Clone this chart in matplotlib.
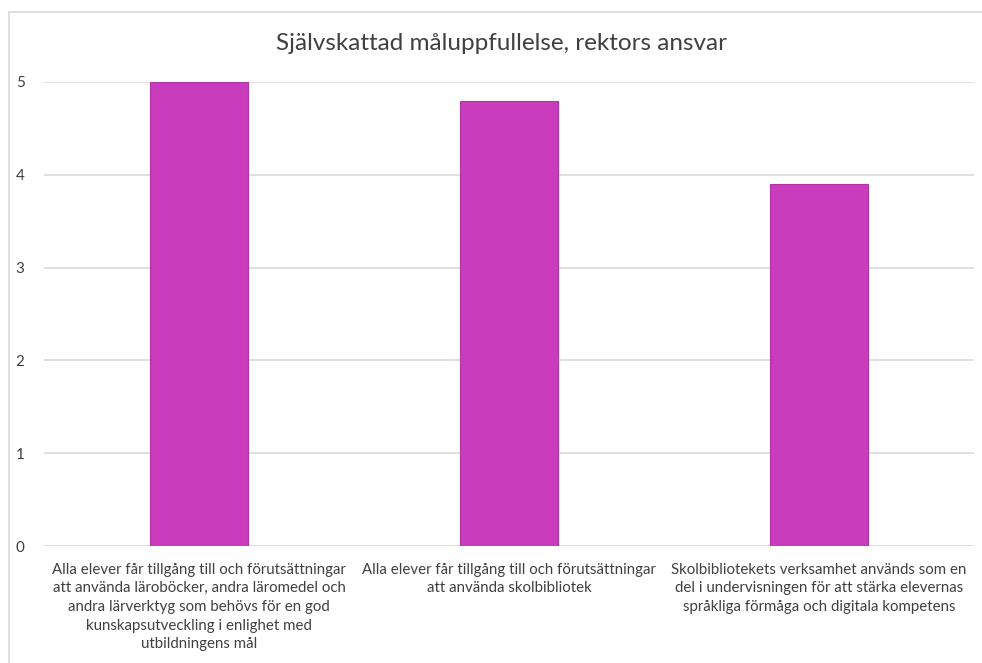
import matplotlib.pyplot as plt
from matplotlib.patches import Rectangle

# data
categories = [
    'Alla elever får tillgång till och förutsättningar\natt använda läroböcker, andra läromedel och\nandra lärverktyg som behövs för en god\nkunskapsutveckling i enlighet med\nutbildningens mål',
    'Alla elever får tillgång till och förutsättningar\natt använda skolbibliotek',
    'Skolbibliotekets verksamhet används som en\ndel i undervisningen för att stärka elevernas\nspråkliga förmåga och digitala kompetens',
]
values = [5.0, 4.8, 3.9]
yticks = [0, 1, 2, 3, 4, 5]

plt.rcParams['font.family'] = ['Lato', 'DejaVu Sans']

fig = plt.figure(figsize=(9.82, 6.63), dpi=100)
ax = fig.add_axes([44 / 982, 1 - 546 / 663, 930 / 982, 464 / 663])

x = list(range(len(categories)))
ax.bar(x, values, width=0.313, color='#C93CBB', edgecolor='#B034A4', linewidth=0.8, zorder=3)

ax.set_xlim(-0.5, 2.5)
ax.set_ylim(0, 5)
ax.set_yticks(yticks)
ax.yaxis.grid(True, color='#D9D9D9', linewidth=1.2, zorder=0)
for s in ax.spines.values():
    s.set_visible(False)
ax.tick_params(axis='y', length=0, pad=14, labelsize=11, labelcolor='#404040')
ax.tick_params(axis='x', length=0, pad=12)
ax.set_xticks(x)
ax.set_xticklabels(categories, fontsize=10.8, color='#404040', linespacing=1.42, va='top')

# title centred over the plot area
fig.text(502 / 982, 1 - 44 / 663, 'Självskattad måluppfullelse, rektors ansvar',
         ha='center', va='center', fontsize=17.5, color='#404040')

# chart area border
fig.patches.append(Rectangle((8.5 / 982, -0.1), 1.2, 1.1 - 12 / 663,
                             transform=fig.transFigure, fill=False,
                             edgecolor='#D9D9D9', linewidth=1.2))

fig.savefig('out.png', dpi=100)
